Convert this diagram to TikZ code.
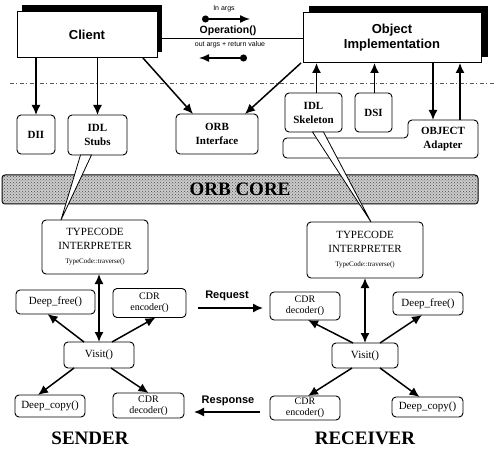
\documentclass[tikz,border=0pt]{standalone}
\usepackage{fontspec}
\setmainfont{Liberation Serif}
\setsansfont{Liberation Sans}
\usetikzlibrary{arrows.meta,patterns,calc}
\begin{document}
\begin{tikzpicture}[x=1pt,y=-1pt,
  every node/.style={inner sep=0pt, outer sep=0pt},
  box/.style={draw, line width=0.9pt, rounded corners=4pt, align=center, fill=white},
  big/.style={draw, line width=1pt, fill=white, align=center, font=\sffamily\bfseries\fontsize{13}{15}\selectfont},
  lbl/.style={font=\bfseries\fontsize{11}{14}\selectfont},
  fn/.style={font=\fontsize{11}{12}\selectfont},
  cdrf/.style={font=\fontsize{10}{11}\selectfont},
  arr/.style={line width=1.5pt, -{Latex[length=10pt,width=9pt]}},
  darr/.style={line width=1.5pt, {Latex[length=10pt,width=9pt]}-{Latex[length=10pt,width=9pt]}},
  wedge/.style={draw, line width=0.8pt, fill=white, line join=miter},
  title/.style={font=\bfseries\fontsize{19}{22}\selectfont},
  small/.style={font=\sffamily\fontsize{7}{8}\selectfont},
  msg/.style={font=\sffamily\bfseries\fontsize{11}{12}\selectfont},
  opa/.style={line width=1.4pt, {Circle[length=7pt]}-{Latex[length=10pt,width=8pt]}},
]
\useasboundingbox (0,0) rectangle (495,454);

% top boxes with shadows
\fill (22,5) rectangle (162,52);
\node[big, minimum width=140, minimum height=46] (client) at (87,35) {Client};
\fill (309,6) rectangle (488,57);
\node[big, minimum width=178, minimum height=50] (oi) at (392,38) {Object\\Implementation};

\draw[line width=0.9pt] (client.east |- oi.west) -- (oi.west);
\node[small] (inargs) at (224,9) {In args};
\node[font=\sffamily\bfseries\fontsize{10.5}{12}\selectfont] (op) at (228,31) {Operation()};
\node[small] (outargs) at (230,45) {out args + return value};
\coordinate (in1) at (202,19); \coordinate (in2) at (250,19);
\draw[opa] (in1) -- (in2);
\coordinate (out1) at (247,58); \coordinate (out2) at (199,58);
\draw[opa] (out1) -- (out2);

% dashed separator
\coordinate (dl1) at (10,83); \coordinate (dl2) at (495,83);
\draw[gray!70!black, line width=0.5pt, dash pattern=on 4pt off 2pt on 1pt off 3pt] (dl1) -- (dl2);

% second row
\node[box, lbl, minimum width=38, minimum height=39] (dii) at (36,134.5) {DII};
\node[box, lbl, minimum width=59, minimum height=40] (stubs) at (97.5,135) {IDL\\Stubs};
\node[box, lbl, minimum width=82, minimum height=40] (orbi) at (217,134) {ORB\\Interface};
\node[box, lbl, minimum width=57, minimum height=39] (skel) at (313.5,112.5) {IDL\\Skeleton};
\node[box, lbl, minimum width=37, minimum height=39] (dsi) at (373.5,112.5) {DSI};
\draw[line width=0.9pt, rounded corners=4pt, fill=white] (283,138) -- (408,138) -- (408,120) -- (478,120) -- (478,158) -- (283,158) -- cycle;
\node[lbl, align=center, minimum width=70, minimum height=38] (adapter) at (443,139) {OBJECT\\Adapter};

\draw[arr] (dii.north |- client.south) -- (dii.north);
\draw[arr] (stubs.north |- client.south) -- (stubs.north);
\draw[arr] ($(client.south east)+(-14,0)$) -- ($(orbi.north west)+(17,0)$);
\draw[arr] ($(oi.south west)+(-2,0)$) -- ($(orbi.north east)+(-13,0)$);
\draw[arr] ($(skel.north)+(3,0)$) -- ($(skel.north |- oi.south)+(3,0)$);
\draw[arr] ($(dsi.north)+(1,0)$) -- ($(dsi.north |- oi.south)+(1,0)$);
\draw[arr] ($(adapter.north |- oi.south)+(-10,0)$) -- ($(adapter.north)+(-10,0)$);
\draw[arr] ($(adapter.north)+(17,0)$) -- ($(adapter.north |- oi.south)+(17,0)$);

% ORB core
\node[draw, line width=1pt, rounded corners=3pt, minimum width=476, minimum height=29, fill=gray!40,
  postaction={pattern=crosshatch dots, pattern color=gray!60!black}, title] (core) at (240,189.5) {ORB CORE};

% sender side
\node[box, minimum width=106, minimum height=54, font=\fontsize{11}{14}\selectfont] (tcl) at (95,247) {TYPECODE\\INTERPRETER\\{\fontsize{7}{8}\selectfont TypeCode::traverse()}};
\node[box, fn, minimum width=79, minimum height=24] (dfl) at (55.5,302) {Deep\_free()};
\node[box, cdrf, minimum width=73, minimum height=29] (cel) at (149.5,303) {CDR\\encoder()};
\node[box, fn, minimum width=70, minimum height=26] (vl) at (99,355) {Visit()};
\node[box, fn, minimum width=70, minimum height=22] (dcl) at (50,406) {Deep\_copy()};
\node[box, cdrf, minimum width=71, minimum height=25] (cdl) at (148.5,405.5) {CDR\\decoder()};

% receiver side
\node[box, minimum width=116, minimum height=56, font=\fontsize{11}{14}\selectfont] (tcr) at (365,250) {TYPECODE\\INTERPRETER\\{\fontsize{7}{8}\selectfont TypeCode::traverse()}};
\node[box, cdrf, minimum width=70, minimum height=28] (cdr) at (305,306) {CDR\\decoder()};
\node[box, fn, minimum width=70, minimum height=23] (dfr) at (428,303.5) {Deep\_free()};
\node[box, fn, minimum width=66, minimum height=25] (vr) at (365,355.5) {Visit()};
\node[box, cdrf, minimum width=70, minimum height=24] (cer) at (305,408) {CDR\\encoder()};
\node[box, fn, minimum width=71, minimum height=20] (dcr) at (427.5,407) {Deep\_copy()};

% wedges through ORB core
\draw[wedge] ($(stubs.south)+(-17,0)$) -- ($(stubs.south)+(-6,0)$) -- ($(tcl.north)+(-34,0)$) -- cycle;
\draw[wedge] ($(skel.south)+(-1,0)$) -- ($(skel.south)+(10,0)$) -- ($(tcr.north)+(6,0)$) -- cycle;

% sender arrows
\draw[darr] (tcl.south -| vl.north) -- (vl.north);
\draw[arr] ($(vl.north)+(-15,0)$) -- ($(dfl.south)+(-8,0)$);
\draw[arr] ($(vl.north)+(13,0)$) -- ($(cel.south)+(6,0)$);
\draw[arr] ($(vl.south)+(-25,0)$) -- ($(dcl.north)+(-12,0)$);
\draw[arr] ($(vl.south)+(12,0)$) -- (cdl.north);

% receiver arrows
\draw[darr] (tcr.south -| vr.north) -- (vr.north);
\draw[arr] ($(vr.north)+(-12,0)$) -- ($(cdr.south)+(3,0)$);
\draw[arr] ($(vr.north)+(15,0)$) -- ($(dfr.south)+(-6,0)$);
\draw[arr] ($(vr.south)+(-13,0)$) -- ($(cer.north)+(3,0)$);
\draw[arr] ($(vr.south)+(15,0)$) -- ($(dcr.north)+(-8,0)$);

% request / response
\node[msg] (req) at (227,296) {Request};
\coordinate (rq1) at (198,308); \coordinate (rq2) at (263,308);
\draw[arr] (rq1) -- (rq2);
\node[msg] (resp) at (228,401) {Response};
\coordinate (rs1) at (260,412); \coordinate (rs2) at (194,412);
\draw[arr] (rs1) -- (rs2);

\node[title] (sender) at (90,438) {SENDER};
\node[title] (receiver) at (365,438) {RECEIVER};
\end{tikzpicture}
\end{document}
